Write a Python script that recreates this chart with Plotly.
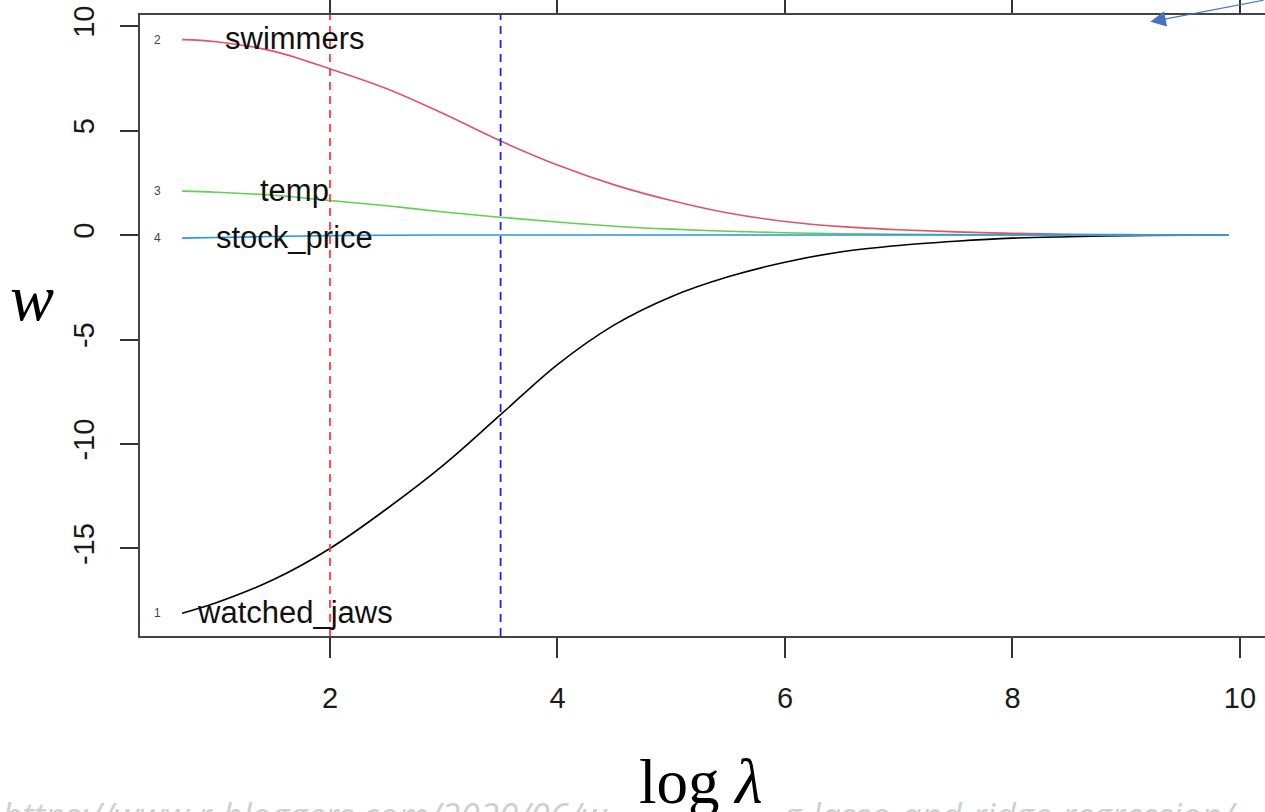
import plotly.graph_objects as go

# ---- data ----
log_lambda = [0.7, 1.0, 1.5, 2.0, 2.5, 3.0, 3.5, 4.0, 4.5, 5.0, 5.5, 6.0, 6.5, 7.0, 7.5, 8.0, 8.5, 9.0, 9.5, 9.9]
watched_jaws = [-18.1, -17.6, -16.5, -15.0, -13.1, -11.0, -8.6, -6.2, -4.3, -2.95, -2.0, -1.3, -0.8, -0.5, -0.3, -0.15, -0.08, -0.03, -0.01, 0.0]
swimmers = [9.35, 9.25, 8.8, 7.95, 7.0, 5.8, 4.5, 3.35, 2.4, 1.65, 1.05, 0.65, 0.4, 0.25, 0.15, 0.08, 0.04, 0.02, 0.01, 0.0]
temp = [2.1, 2.05, 1.9, 1.65, 1.4, 1.1, 0.85, 0.62, 0.42, 0.28, 0.18, 0.11, 0.06, 0.03, 0.02, 0.01, 0.0, 0.0, 0.0, 0.0]
stock_price = [-0.15, -0.12, -0.07, -0.03, -0.01, 0.0, 0.0, 0.0, 0.0, 0.0, 0.0, 0.0, 0.0, 0.0, 0.0, 0.0, 0.0, 0.0, 0.0, 0.0]

series_names = ["watched_jaws", "swimmers", "temp", "stock_price"]
series_ids = ["1", "2", "3", "4"]
series_values = [watched_jaws, swimmers, temp, stock_price]
series_colors = ["#000000", "#DF536B", "#61D04F", "#2297E6"]

vline_x = [2.0, 3.5]
vline_colors = ["#FF3B3B", "#1F1FFF"]

x_ticks = [2, 4, 6, 8, 10]
y_ticks = [-15, -10, -5, 0, 5, 10]
y_tick_text = ["-15", "-10", "-5", "0", "5", "10"]

url_left = "https://www.r-bloggers.com/2020/06/w"
url_right = "g-lasso-and-ridge-regression/"

fig = go.Figure()
for name, vals, col in zip(series_names, series_values, series_colors):
    fig.add_trace(go.Scatter(x=log_lambda, y=vals, mode="lines", name=name,
                             line=dict(color=col, width=1.6, shape="spline"),
                             showlegend=False, hoverinfo="skip"))

for xv, col in zip(vline_x, vline_colors):
    fig.add_shape(type="line", x0=xv, x1=xv, y0=0, y1=1, xref="x", yref="paper",
                  line=dict(color=col, width=1.8, dash="8px,6px"))

# small index numbers and variable labels
for sid, name, vals in zip(series_ids, series_names, series_values):
    fig.add_annotation(x=0.48, y=vals[0], xref="x", yref="y", text=sid, showarrow=False,
                       font=dict(family="Liberation Sans", size=12, color="#444444"))
    fig.add_annotation(x=1.69, y=vals[0] + 0.05, xref="x", yref="y", text=name, showarrow=False,
                       font=dict(family="Liberation Sans", size=31, color="#111111"))

# axis titles as free text
fig.add_annotation(x=-0.117, y=0.545, xref="paper", yref="paper", text="<i>w</i>", showarrow=False,
                   font=dict(family="Liberation Serif", size=66, color="#000000"))

fig.add_annotation(x=0, y=-0.287, xref="paper", yref="paper", xanchor="left", yanchor="middle",
                   text="<i>" + url_left + "</i>", showarrow=False, xshift=-140,
                   font=dict(family="Open Sans", size=35, color="#CFCFCF"))
fig.add_annotation(x=1, y=-0.287, xref="paper", yref="paper", xanchor="right", yanchor="middle",
                   text="<i>" + url_right + "</i>", showarrow=False, xshift=-25,
                   font=dict(family="Open Sans", size=35, color="#CFCFCF"))

fig.add_annotation(x=0.5, y=-0.235, xref="paper", yref="paper", xanchor="center", yanchor="middle",
                   text="log <i>λ</i>", showarrow=False, xshift=-2, bgcolor="#FFFFFF",
                   font=dict(family="Liberation Serif", size=63, color="#000000"))

# arrow at top right
fig.add_annotation(x=0.898, y=0.989, xref="paper", yref="paper", ax=120, ay=-26,
                   showarrow=True, arrowhead=2, arrowsize=2.6, arrowwidth=1.2,
                   arrowcolor="#4472C4", text="")

fig.update_xaxes(range=[0.33, 10.22], tickvals=x_ticks, ticks="outside", ticklen=20, tickwidth=1.5,
                 tickcolor="#333333", showline=True, linecolor="#444444", linewidth=2,
                 mirror="ticks", showgrid=False, zeroline=False, ticklabelstandoff=15,
                 automargin=False,
                 tickfont=dict(family="Liberation Sans", size=29, color="#1a1a1a"))
fig.update_yaxes(range=[-19.19, 10.53], tickvals=y_ticks, ticktext=y_tick_text, ticks="outside",
                 ticklen=18, tickwidth=1.5,
                 tickcolor="#333333", showline=True, linecolor="#444444", linewidth=2,
                 mirror=False, showgrid=False, zeroline=False, tickangle=-90, ticklabelstandoff=14,
                 automargin=False,
                 tickfont=dict(family="Liberation Sans", size=29, color="#1a1a1a"))

fig.update_layout(width=1265, height=812, margin=dict(l=140, r=0, t=15, b=176, autoexpand=False),
                  plot_bgcolor="#FFFFFF", paper_bgcolor="#FFFFFF")

fig.write_html("out.html", config={"displayModeBar": False},
               post_script="document.body.style.margin='0px';")
